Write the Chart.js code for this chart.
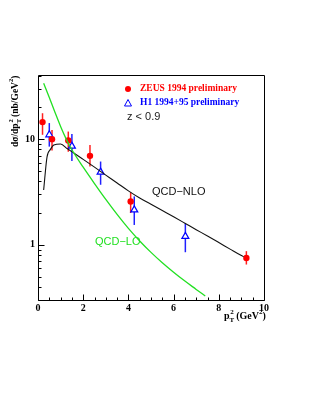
<!DOCTYPE html>
<html>
<head>
<meta charset="utf-8">
<script src="https://cdn.jsdelivr.net/npm/chart.js@4/dist/chart.umd.min.js"></script>
<style>
  html, body { margin: 0; padding: 0; background: #fff; }
  #box { position: relative; width: 311px; height: 402px; }
</style>
</head>
<body>
<div id="box"><canvas id="grafico" width="311" height="402"></canvas></div>
<script>
// dados
const xMarcados = [0, 2, 4, 6, 8, 10];
const yMarcados = [1, 10];
const yTicks = [0.3, 0.4, 0.5, 0.6, 0.7, 0.8, 0.9, 1, 2, 3, 4, 5, 6, 7, 8, 9, 10, 20, 30, 40];

const zeusX = [0.2, 0.62, 1.34, 2.3, 4.1, 9.22];
const zeusY = [14.5, 10.0, 9.7, 6.95, 2.57, 0.75];
const zeusLo = [11.0, 7.8, 7.6, 5.5, 2.0, 0.65];
const zeusHi = [17.6, 12.2, 11.8, 8.8, 3.13, 0.87];

const h1X = [0.5, 1.5, 2.77, 4.26, 6.52];
const h1Y = [11.0, 8.6, 4.87, 2.14, 1.2];
const h1Lo = [8.5, 6.2, 3.7, 1.54, 0.85];
const h1Hi = [14.2, 11.2, 6.14, 2.87, 1.58];

const nloX = [0.25, 0.4, 0.55, 0.7, 1.0, 1.3, 1.6, 2.0, 2.5, 3.0, 3.5, 4.0, 4.5, 5.0, 5.5, 6.0, 6.5, 7.0, 7.5, 8.0, 8.5, 9.0, 9.1];
const nloY = [3.3, 6.8, 8.0, 8.8, 9.0, 8.1, 7.35, 6.43, 5.43, 4.57, 3.85, 3.24, 2.77, 2.42, 2.11, 1.84, 1.60, 1.39, 1.21, 1.05, 0.91, 0.79, 0.77];

const loX = [0.25, 0.5, 0.75, 1.0, 1.25, 1.5, 2.0, 2.5, 3.0, 3.5, 4.0, 4.5, 5.0, 5.5, 6.0, 6.5, 7.0, 7.4];
const loY = [33.9, 24.8, 18.0, 13.2, 10.0, 7.94, 5.43, 3.80, 2.69, 1.94, 1.43, 1.086, 0.847, 0.676, 0.55, 0.453, 0.378, 0.327];

const pontos = (xs, ys) => xs.map((x, i) => ({ x: x, y: ys[i] }));

const VERDE = "#22e022";
const SERIF = "'Liberation Serif', 'DejaVu Serif', serif";
const SANS = "'Liberation Sans', Arial, sans-serif";

// barras de erro, moldura, ticks para dentro e textos
const extras = {
  id: "extras",
  beforeDatasetsDraw(chart) {
    const ctx = chart.ctx;
    const sx = chart.scales.x, sy = chart.scales.y;
    const barras = (xs, lo, hi, cor) => {
      ctx.save();
      ctx.strokeStyle = cor;
      ctx.lineWidth = 1.5;
      xs.forEach((x, i) => {
        const px = sx.getPixelForValue(x);
        ctx.beginPath();
        ctx.moveTo(px, sy.getPixelForValue(lo[i]));
        ctx.lineTo(px, sy.getPixelForValue(hi[i]));
        ctx.stroke();
      });
      ctx.restore();
    };
    barras(zeusX, zeusLo, zeusHi, "#ff2020");
    barras(h1X, h1Lo, h1Hi, "#2020ff");
  },
  afterDraw(chart) {
    const ctx = chart.ctx;
    const a = chart.chartArea;
    const sx = chart.scales.x, sy = chart.scales.y;
    const L = Math.round(a.left) + 0.5, R = Math.round(a.right) + 0.5;
    const T = Math.round(a.top) + 0.5, B = Math.round(a.bottom) + 0.5;
    ctx.save();
    ctx.setLineDash([]);
    ctx.globalAlpha = 1;
    ctx.strokeStyle = "rgb(0,0,0)";
    ctx.lineWidth = 1;
    ctx.beginPath();
    ctx.moveTo(L, T);
    ctx.lineTo(R, T);
    ctx.lineTo(R, B);
    ctx.lineTo(L, B);
    ctx.closePath();

    // ticks para dentro
    sx.ticks.forEach(t => {
      const px = Math.round(sx.getPixelForValue(t.value)) + 0.5;
      const len = xMarcados.includes(t.value) ? 6 : 3;
      ctx.moveTo(px, B);
      ctx.lineTo(px, B - len);
    });
    sy.ticks.forEach(t => {
      const py = Math.round(sy.getPixelForValue(t.value)) + 0.5;
      const len = yMarcados.includes(t.value) ? 6 : 3;
      ctx.moveTo(L, py);
      ctx.lineTo(L + len, py);
    });
    ctx.stroke();

    // legenda
    ctx.textBaseline = "middle";
    ctx.fillStyle = "#ff0000";
    ctx.beginPath();
    ctx.arc(128, 89, 3, 0, Math.PI * 2);
    ctx.fill();
    ctx.font = "bold 9.5px " + SERIF;
    ctx.fillText("ZEUS 1994 preliminary", 140, 89);

    ctx.strokeStyle = "#0000ff";
    ctx.beginPath();
    ctx.moveTo(128, 99.5);
    ctx.lineTo(131.5, 106);
    ctx.lineTo(124.5, 106);
    ctx.closePath();
    ctx.stroke();
    ctx.fillStyle = "#0000ff";
    ctx.fillText("H1 1994+95 preliminary", 140, 103);

    ctx.fillStyle = "#222";
    ctx.font = "11px " + SANS;
    ctx.fillText("z < 0.9", 127, 117);

    ctx.fillStyle = "#111";
    ctx.fillText("QCD\u2212NLO", 152, 191.5);
    ctx.fillStyle = VERDE;
    ctx.fillText("QCD\u2212LO", 95, 242);

    // titulo do eixo x
    ctx.fillStyle = "#000";
    ctx.textBaseline = "alphabetic";
    let x = 224;
    const base = 319;
    const parte = (txt, tam, dy) => {
      ctx.font = "bold " + tam + "px " + SERIF;
      ctx.fillText(txt, x, base + dy);
      x += ctx.measureText(txt).width;
    };
    parte("p", 10, 0);
    parte("T", 7, 3);
    x -= 4;
    parte("2", 7, -5);
    parte(" (GeV", 10, 0);
    parte("2", 7, -5);
    parte(")", 10, 0);

    // titulo do eixo y
    ctx.translate(18, 147);
    ctx.rotate(-Math.PI / 2);
    x = 0;
    const parteY = (txt, tam, dy) => {
      ctx.font = "bold " + tam + "px " + SERIF;
      ctx.fillText(txt, x, dy);
      x += ctx.measureText(txt).width;
    };
    parteY("d\u03c3/dp", 9.5, 0);
    parteY("T", 6.5, 3);
    x -= 3.5;
    parteY("2", 6.5, -5);
    parteY(" (nb/GeV", 9.5, 0);
    parteY("2", 6.5, -5);
    parteY(")", 9.5, 0);
    ctx.restore();
  }
};

document.addEventListener("DOMContentLoaded", () => {
  new Chart(document.getElementById("grafico"), {
    type: "scatter",
    data: {
      datasets: [
        {
          label: "QCD-LO",
          data: pontos(loX, loY),
          showLine: true,
          borderColor: VERDE,
          borderWidth: 1.3,
          pointRadius: 0,
          cubicInterpolationMode: "monotone"
        },
        {
          label: "QCD-NLO",
          data: pontos(nloX, nloY),
          showLine: true,
          borderColor: "#111",
          borderWidth: 1.1,
          pointRadius: 0,
          cubicInterpolationMode: "monotone"
        },
        {
          label: "ZEUS 1994 preliminary",
          data: pontos(zeusX, zeusY),
          pointStyle: "circle",
          pointRadius: 3.2,
          backgroundColor: "#ff0000",
          borderColor: "#ff0000",
          borderWidth: 0
        },
        {
          label: "H1 1994+95 preliminary",
          data: pontos(h1X, h1Y),
          pointStyle: "triangle",
          pointRadius: 4,
          backgroundColor: "#ffffff",
          borderColor: "#0000ff",
          borderWidth: 1.2
        }
      ]
    },
    options: {
      responsive: false,
      animation: false,
      layout: { padding: { left: 0, right: 47, top: 75, bottom: 0 } },
      plugins: { legend: { display: false }, tooltip: { enabled: false } },
      scales: {
        x: {
          type: "linear",
          min: 0,
          max: 10,
          grid: { display: false, drawTicks: false },
          border: { display: false },
          afterFit: s => { s.height = 102; },
          ticks: {
            stepSize: 0.5,
            autoSkip: false,
            maxRotation: 0,
            padding: 2,
            color: "#000",
            font: { family: SERIF, weight: "bold", size: 10 },
            callback: v => xMarcados.includes(v) ? String(v) : ""
          }
        },
        y: {
          type: "logarithmic",
          min: 0.3,
          max: 40.5,
          grid: { display: false, drawTicks: false },
          border: { display: false },
          afterFit: s => { s.width = 38; },
          afterBuildTicks: s => { s.ticks = yTicks.map(v => ({ value: v })); },
          ticks: {
            autoSkip: false,
            padding: 3,
            color: "#000",
            font: { family: SERIF, weight: "bold", size: 10 },
            callback: v => yMarcados.includes(v) ? String(v) : ""
          }
        }
      }
    },
    plugins: [extras]
  });
});
</script>
</body>
</html>
